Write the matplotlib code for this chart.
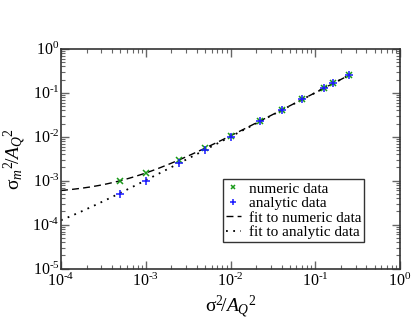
import numpy as np
import matplotlib
matplotlib.use('Agg')
import matplotlib.pyplot as plt
from matplotlib.ticker import LogLocator, FuncFormatter, NullFormatter

plt.rcParams['font.family'] = ['Liberation Serif', 'DejaVu Serif']
plt.rcParams['mathtext.fontset'] = 'custom'
plt.rcParams['mathtext.rm'] = 'Liberation Serif'
plt.rcParams['mathtext.it'] = 'Liberation Serif:italic'

# data
x_num = [5e-4, 1e-3, 2.5e-3, 5e-3, 1e-2, 2.25e-2, 4e-2, 7e-2, 0.125, 0.16, 0.25]
y_num = [1.0e-3, 1.5e-3, 3.0e-3, 5.5e-3, 1.05e-2, 2.3e-2, 4.1e-2, 7.2e-2, 0.127, 0.165, 0.255]
x_ana = [5e-4, 1e-3, 2.5e-3, 5e-3, 1e-2, 2.25e-2, 4e-2, 7e-2, 0.125, 0.16, 0.25]
y_ana = [5.0e-4, 1.0e-3, 2.55e-3, 4.9e-3, 9.7e-3, 2.25e-2, 4.1e-2, 7.1e-2, 0.126, 0.165, 0.25]

# fit parameters: y = a*x + b
fit_num = (1.0, 5.0e-4)
fit_ana = (1.0, 2.6e-5)

xf = np.logspace(-4, np.log10(0.25), 200)

fig = plt.figure(figsize=(4.15, 3.21), dpi=100)
ax = fig.add_axes([0.147, 0.163, 0.817, 0.685])

ax.plot(xf, fit_num[0] * xf + fit_num[1], color='black', ls=(0, (5, 3)), lw=1.0,
        label='fit to numeric data', zorder=2)
ax.plot(xf, fit_ana[0] * xf + fit_ana[1], color='black', ls=(0, (1, 3)), lw=1.3,
        label='fit to analytic data', zorder=2)
ax.plot(x_num, y_num, 'x', color='#1a9a1a', ms=4.5, mew=1.1, label='numeric data', zorder=3)
ax.plot(x_ana, y_ana, '+', color='#1a1aff', ms=6, mew=1.1, label='analytic data', zorder=3)

ax.set_xscale('log')
ax.set_yscale('log')
ax.set_xlim(1e-4, 1)
ax.set_ylim(1e-5, 1)


def pow10(v, pos):
    e = int(round(np.log10(v)))
    return r'$10^{\text{%d}}$' % e


for axis in (ax.xaxis, ax.yaxis):
    axis.set_major_locator(LogLocator(base=10, numticks=12))
    axis.set_major_formatter(FuncFormatter(pow10))
    axis.set_minor_locator(LogLocator(base=10, subs=np.arange(2, 10) * 1.0, numticks=12))
    axis.set_minor_formatter(NullFormatter())

ax.tick_params(which='both', direction='in', top=True, right=True, labelsize=11.5,
               color='#666666')
ax.tick_params(axis='y', pad=1)
ax.tick_params(axis='x', pad=3)
ax.tick_params(which='major', length=6, width=1)
ax.tick_params(which='minor', length=3, width=0.8)
for s in ax.spines.values():
    s.set_linewidth(1.2)
    s.set_color('#333333')

ax.set_xlabel(r'$\mathrm{\sigma}^2\!/A_Q{}^{2}$', fontsize=14, labelpad=2)
ax.set_ylabel(r'$\mathrm{\sigma}_m{}^{2}\!/A_Q{}^{2}$', fontsize=14, labelpad=3)

h, l = ax.get_legend_handles_labels()
order = [2, 3, 0, 1]
leg = ax.legend([h[i] for i in order], [l[i] for i in order], loc='lower right',
                bbox_to_anchor=(0.894, 0.12), fontsize=11, frameon=True, fancybox=False,
                edgecolor='black', handlelength=1.0, handletextpad=0.5, borderpad=0.2,
                labelspacing=0.05, borderaxespad=0, markerscale=0.7)
leg.get_frame().set_linewidth(1.0)

fig.savefig('out.png', dpi=100)
